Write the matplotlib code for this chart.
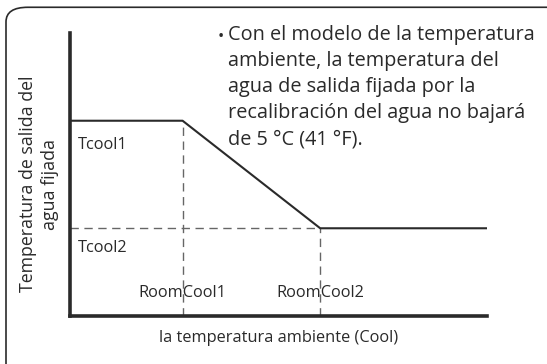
import matplotlib.pyplot as plt
from matplotlib.patches import FancyBboxPatch

# Curve of set water outlet temperature vs ambient temperature (arbitrary units)
room_x = [0.0, 2.7, 6.0, 10.0]
water_y = [6.9, 6.9, 3.1, 3.1]
room_labels = ['RoomCool1', 'RoomCool2']
temp_labels = ['Tcool1', 'Tcool2']

note = ('Con el modelo de la temperatura\nambiente, la temperatura del\n'
        'agua de salida fijada por la\nrecalibración del agua no bajará\n'
        'de 5 °C (41 °F).')

plt.rcParams['font.family'] = ['Open Sans', 'DejaVu Sans']
dark = '#2a2a2a'
guide = '#666666'

fig = plt.figure(figsize=(5.47, 3.64), dpi=100)

# rounded frame
box = FancyBboxPatch((6 / 547, -0.2), 1.2, 1.18, boxstyle='round,pad=0,rounding_size=0.04',
                     transform=fig.transFigure, fill=False, lw=1.2, ec=dark)
fig.patches.append(box)

ax = fig.add_axes([70 / 547, 48 / 364, 417 / 547, 283 / 364])
ax.set_xlim(0, 10)
ax.set_ylim(0, 10)
ax.patch.set_visible(False)

# dashed guides
ax.plot([room_x[1], room_x[1]], [0, water_y[1]], color=guide, lw=1.0, ls=(0, (6, 4)))
ax.plot([room_x[2], room_x[2]], [0, water_y[2]], color=guide, lw=1.0, ls=(0, (6, 4)))
ax.plot([0, room_x[2]], [water_y[2], water_y[2]], color=guide, lw=1.0, ls=(0, (6, 4)))

ax.plot(room_x, water_y, color=dark, lw=1.5, solid_capstyle='butt')

for s in ['top', 'right']:
    ax.spines[s].set_visible(False)
for s in ['left', 'bottom']:
    ax.spines[s].set_linewidth(2.6)
    ax.spines[s].set_color(dark)
ax.set_xticks([])
ax.set_yticks([])

fs = 11.8
ax.text(0.2, water_y[1] - 0.85, temp_labels[0], fontsize=fs, color=dark, va='center')
ax.text(0.2, water_y[2] - 0.7, temp_labels[1], fontsize=fs, color=dark, va='center')
ax.text(room_x[1], 0.8, room_labels[0], fontsize=fs, color=dark, ha='center', va='center')
ax.text(room_x[2], 0.8, room_labels[1], fontsize=fs, color=dark, ha='center', va='center')

ax.set_xlabel('la temperatura ambiente (Cool)', fontsize=fs, color=dark, labelpad=10)
fig.text(39 / 547, 1 - 184 / 364, 'Temperatura de salida del\nagua fijada', fontsize=12.8,
         color=dark, rotation=90, ha='center', va='center', multialignment='center',
         linespacing=1.35)

fig.text(218 / 547, 1 - 37 / 364, '•', fontsize=12, color=dark, va='center')
fig.text(228 / 547, 1 - 25 / 364, note, fontsize=14.3, color=dark, va='top', linespacing=1.4)

fig.savefig('out.png', dpi=100)
